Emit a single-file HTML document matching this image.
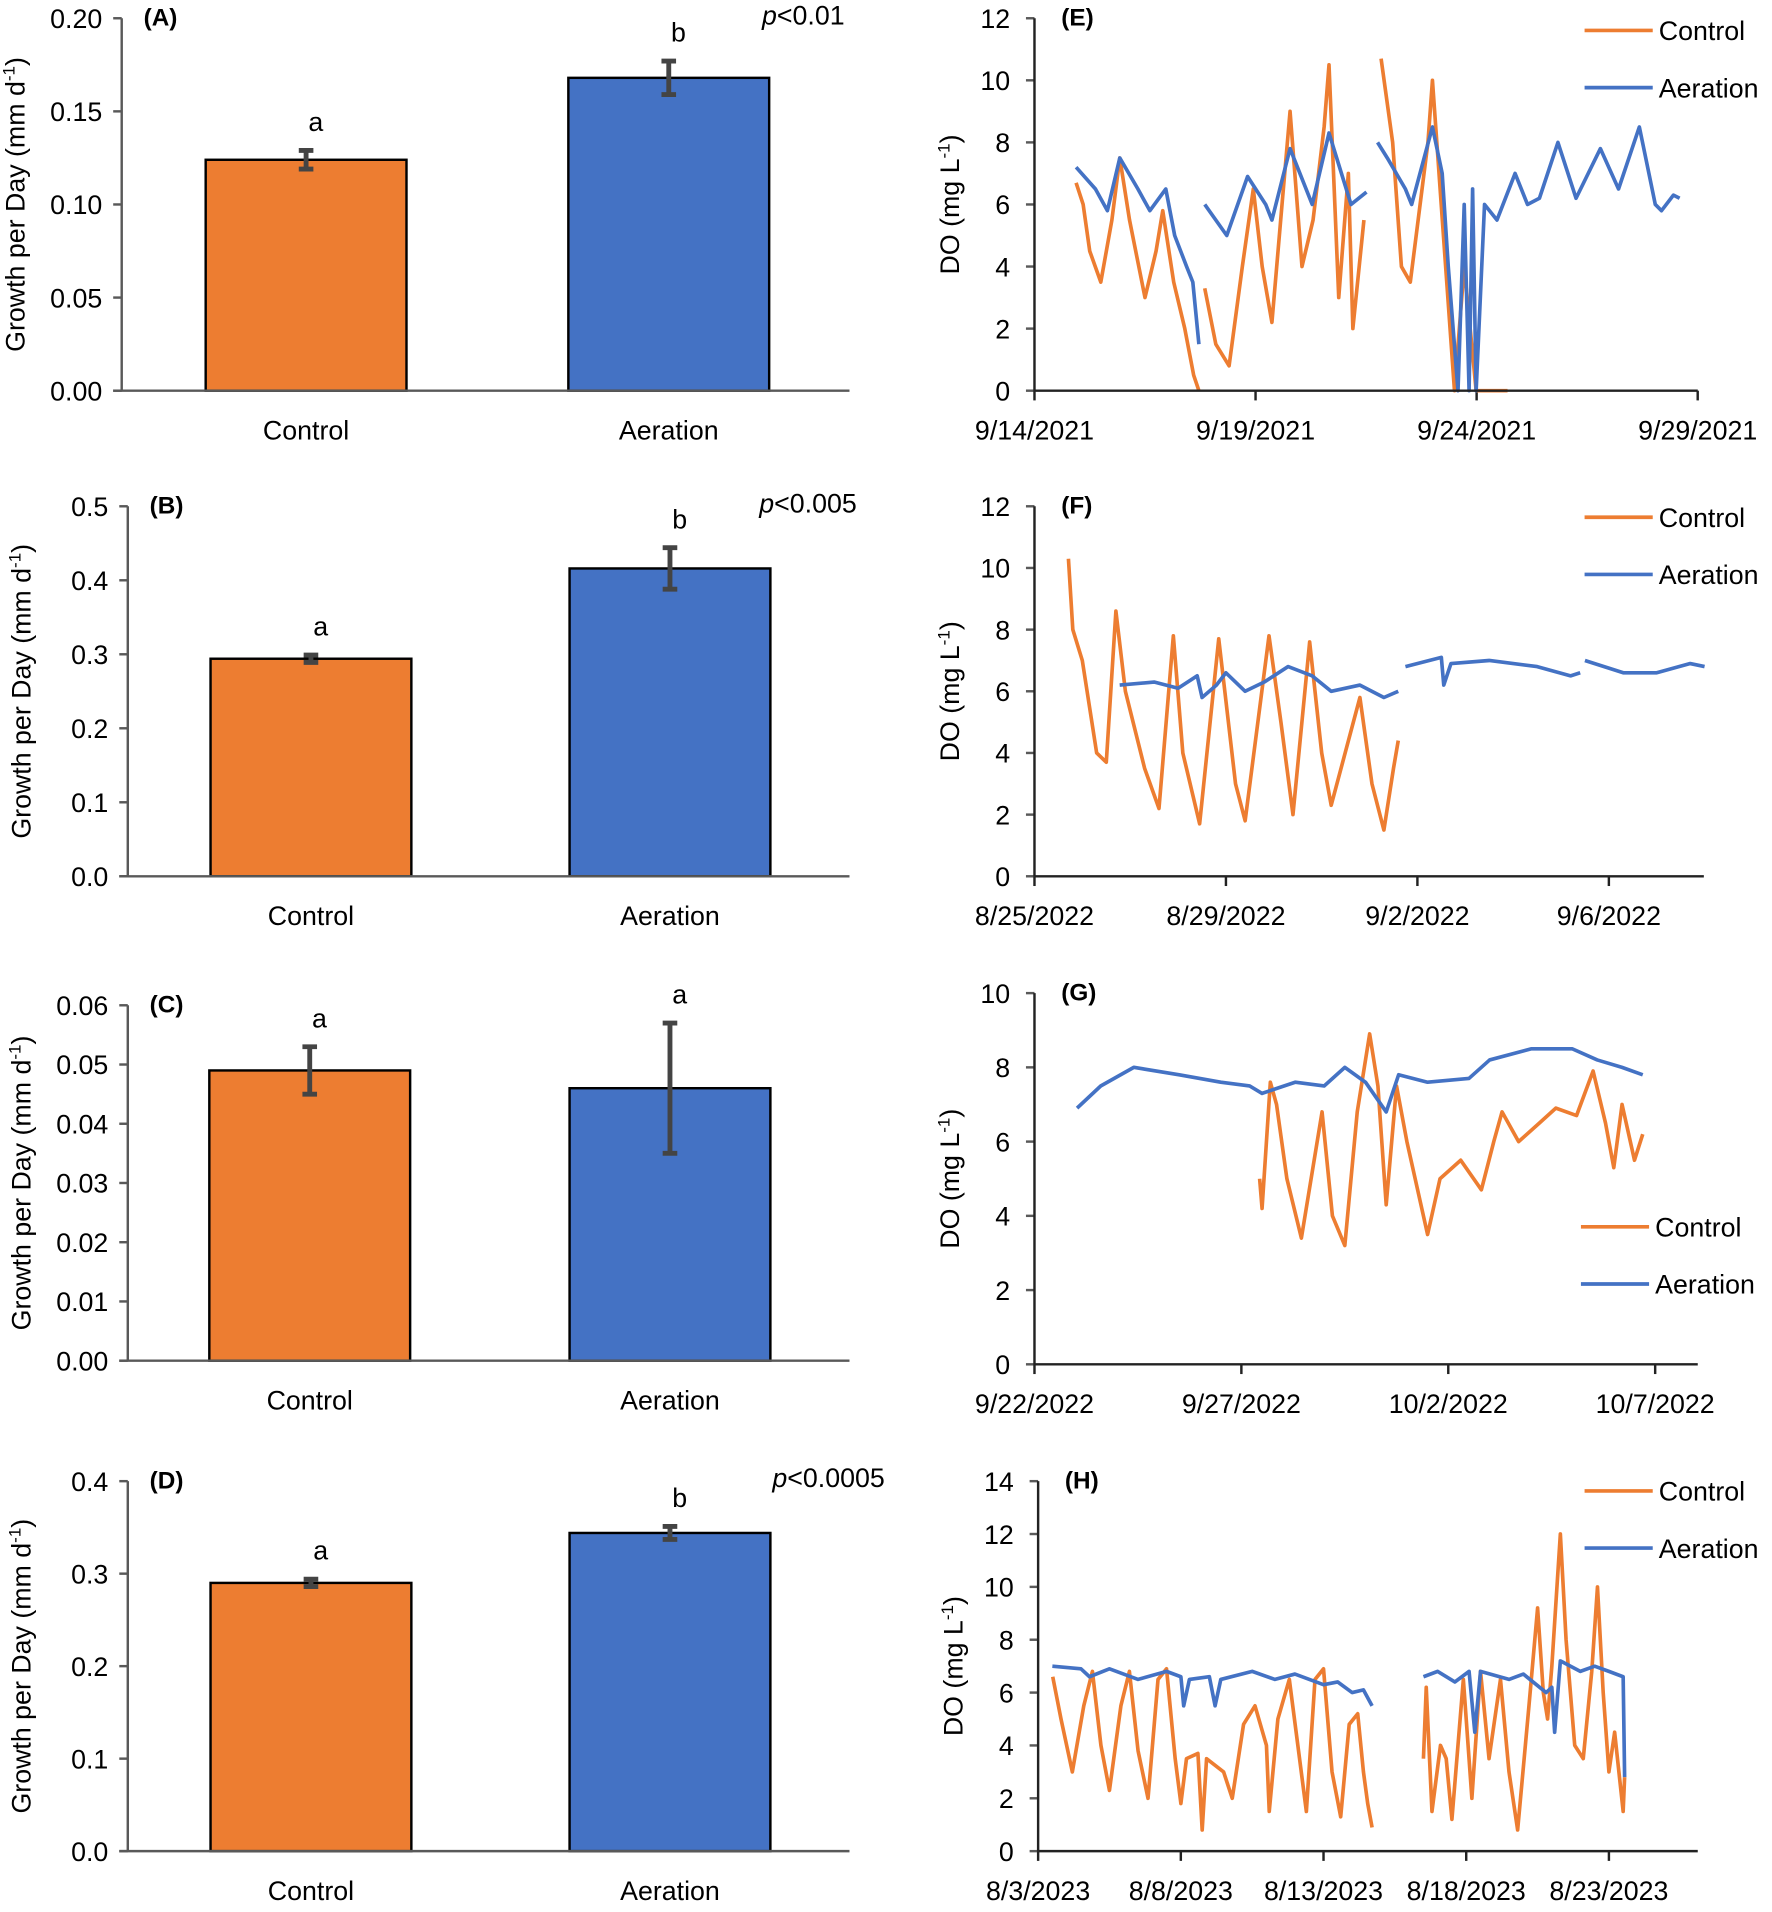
<!DOCTYPE html>
<html><head><meta charset="utf-8"><style>
html,body{margin:0;padding:0;background:#fff}
svg{display:block}
text{font-family:"Liberation Sans",sans-serif;fill:#000}
</style></head><body>
<svg id="fig" width="1772" height="1912" viewBox="0 0 1456 1571" preserveAspectRatio="none" xmlns="http://www.w3.org/2000/svg"></svg>
<script>
// ---- bar chart data ----
const barCategories = ["Control","Aeration"];
const barA = [0.124,0.168], errA = [0.005,0.009], letA = ["a","b"];
const barB = [0.294,0.416], errB = [0.005,0.028], letB = ["a","b"];
const barC = [0.049,0.046], errC = [0.004,0.011], letC = ["a","a"];
const barD = [0.290,0.344], errD = [0.004,0.007], letD = ["a","b"];
const ticksA = ["0.00","0.05","0.10","0.15","0.20"];
const ticksB = ["0.0","0.1","0.2","0.3","0.4","0.5"];
const ticksC = ["0.00","0.01","0.02","0.03","0.04","0.05","0.06"];
const ticksD = ["0.0","0.1","0.2","0.3","0.4"];
// ---- DO series [day offset, mg/L]; null = gap ----
const ctrlE = [[0.94,6.7],[1.1,6.0],[1.25,4.5],[1.5,3.5],[1.75,5.5],[1.93,7.5],[2.15,5.5],[2.5,3.0],[2.75,4.5],[2.9,5.8],[3.15,3.5],[3.4,2.0],[3.6,0.5],[3.72,0],null,[3.85,3.3],[4.1,1.5],[4.4,0.8],[4.7,4.0],[4.95,6.5],[5.15,4.0],[5.37,2.2],[5.6,6.0],[5.78,9.0],[6.05,4.0],[6.3,5.5],[6.55,8.5],[6.66,10.5],[6.88,3.0],[7.1,7.0],[7.2,2.0],[7.45,5.5],null,[7.84,10.7],[8.1,8.0],[8.3,4.0],[8.5,3.5],[8.9,8.0],[9.0,10.0],[9.2,6.0],[9.5,0],[9.72,4.0],[9.99,0],[10.7,0]];
const aerE = [[0.94,7.2],[1.38,6.5],[1.65,5.8],[1.93,7.5],[2.34,6.5],[2.61,5.8],[2.97,6.5],[3.17,5.0],[3.44,4.0],[3.58,3.5],[3.72,1.5],null,[3.85,6.0],[4.35,5.0],[4.82,6.9],[5.23,6.0],[5.37,5.5],[5.78,7.8],[6.28,6.0],[6.66,8.3],[7.16,6.0],[7.51,6.4],null,[7.76,8.0],[7.98,7.5],[8.39,6.5],[8.53,6.0],[9.0,8.5],[9.22,7.0],[9.36,4.0],[9.58,0],[9.72,6.0],[9.83,0],[9.91,6.5],[9.99,0],[10.18,6.0],[10.46,5.5],[10.87,7.0],[11.15,6.0],[11.42,6.2],[11.84,8.0],[12.25,6.2],[12.8,7.8],[13.21,6.5],[13.68,8.5],[14.04,6.0],[14.18,5.8],[14.45,6.3],[14.59,6.2]];
const ctrlF = [[0.71,10.3],[0.8,8],[1.0,7],[1.3,4],[1.5,3.7],[1.7,8.6],[1.9,6],[2.3,3.5],[2.6,2.2],[2.9,7.8],[3.1,4],[3.45,1.7],[3.85,7.7],[4.2,3],[4.4,1.8],[4.9,7.8],[5.15,5],[5.4,2],[5.75,7.6],[6.0,4],[6.2,2.3],[6.8,5.8],[7.05,3],[7.3,1.5],[7.5,3.5],[7.6,4.4]];
const aerF = [[1.78,6.2],[2.5,6.3],[3.0,6.1],[3.4,6.5],[3.5,5.8],[3.8,6.2],[4.0,6.6],[4.4,6.0],[4.8,6.3],[5.3,6.8],[5.8,6.5],[6.2,6.0],[6.8,6.2],[7.3,5.8],[7.6,6.0],null,[7.75,6.8],[8.5,7.1],[8.55,6.2],[8.7,6.9],[9.5,7.0],[10.5,6.8],[11.2,6.5],[11.4,6.6],null,[11.5,7.0],[12.3,6.6],[13.0,6.6],[13.7,6.9],[14.0,6.8]];
const ctrlG = [[5.44,5.0],[5.5,4.2],[5.7,7.6],[5.85,7],[6.1,5],[6.45,3.4],[6.95,6.8],[7.2,4],[7.5,3.2],[7.8,6.8],[8.1,8.9],[8.3,7.5],[8.5,4.3],[8.75,7.5],[9.0,6],[9.5,3.5],[9.8,5.0],[10.3,5.5],[10.8,4.7],[11.1,6.0],[11.3,6.8],[11.7,6.0],[12.2,6.5],[12.6,6.9],[13.1,6.7],[13.5,7.9],[13.8,6.5],[14.0,5.3],[14.2,7.0],[14.5,5.5],[14.7,6.2]];
const aerG = [[1.03,6.9],[1.6,7.5],[2.4,8.0],[3.5,7.8],[4.5,7.6],[5.2,7.5],[5.5,7.3],[6.3,7.6],[7.0,7.5],[7.5,8.0],[8.0,7.6],[8.5,6.8],[8.8,7.8],[9.5,7.6],[10.5,7.7],[11.0,8.2],[12.0,8.5],[13.0,8.5],[13.6,8.2],[14.2,8.0],[14.7,7.8]];
const ctrlH = [[0.51,6.6],[0.8,5],[1.2,3],[1.6,5.5],[1.9,6.8],[2.2,4],[2.5,2.3],[2.9,5.5],[3.2,6.8],[3.5,3.8],[3.85,2],[4.2,6.5],[4.5,6.9],[4.8,3.5],[5.0,1.8],[5.2,3.5],[5.6,3.7],[5.75,0.8],[5.9,3.5],[6.5,3],[6.8,2],[7.2,4.8],[7.6,5.5],[8.0,4],[8.1,1.5],[8.4,5],[8.8,6.5],[9.1,4],[9.4,1.5],[9.7,6.5],[10.0,6.9],[10.3,3],[10.6,1.3],[10.9,4.8],[11.2,5.2],[11.4,3],[11.55,1.8],[11.7,0.9],null,[13.5,3.5],[13.6,6.2],[13.8,1.5],[14.1,4],[14.3,3.5],[14.5,1.2],[14.9,6.5],[15.2,2],[15.5,6.8],[15.8,3.5],[16.2,6.5],[16.5,3],[16.8,0.8],[17.2,5.5],[17.5,9.2],[17.7,6],[17.85,5],[18.0,7],[18.3,12],[18.5,8],[18.8,4],[19.1,3.5],[19.4,6.8],[19.6,10],[19.8,6],[20.0,3],[20.2,4.5],[20.5,1.5],[20.55,2.8]];
const aerH = [[0.5,7.0],[1.5,6.9],[1.8,6.6],[2.5,6.9],[3.5,6.5],[4.5,6.8],[5.0,6.6],[5.1,5.5],[5.3,6.5],[6.0,6.6],[6.2,5.5],[6.4,6.5],[7.5,6.8],[8.3,6.5],[9.0,6.7],[10.0,6.3],[10.5,6.4],[11.0,6.0],[11.4,6.1],[11.7,5.5],null,[13.5,6.6],[14.0,6.8],[14.6,6.4],[15.1,6.8],[15.3,4.5],[15.5,6.8],[16.5,6.5],[17.0,6.7],[17.8,6.0],[18.0,6.2],[18.1,4.5],[18.3,7.2],[19.0,6.8],[19.5,7.0],[20.0,6.8],[20.5,6.6],[20.55,2.8]];
const dateTicksE = ["9/14/2021","9/19/2021","9/24/2021","9/29/2021"];
const dateTicksF = ["8/25/2022","8/29/2022","9/2/2022","9/6/2022"];
const dateTicksG = ["9/22/2022","9/27/2022","10/2/2022","10/7/2022"];
const dateTicksH = ["8/3/2023","8/8/2023","8/13/2023","8/18/2023","8/23/2023"];

const NS="http://www.w3.org/2000/svg", svg=document.getElementById('fig');
const OR="#ED7D31", BL="#4472C4", AX="#595959";
function mk(tag,attrs,parent,txt){const e=document.createElementNS(NS,tag);for(const k in attrs)e.setAttribute(k,attrs[k]);if(txt!=null)e.textContent=txt;(parent||svg).appendChild(e);return e;}

function barPanel(o){
  const g=mk('g',{});
  
  
  const vmax=parseFloat(o.ticks[o.ticks.length-1]);
  const y=v=>o.y0-(v/vmax)*(o.y0-o.yTop);
  o.ticks.forEach(t=>{const v=parseFloat(t);
    mk('line',{x1:o.ax-7,x2:o.ax,y1:y(v),y2:y(v),stroke:AX,'stroke-width':2},g);
    const tx=mk('text',{x:o.ax-16,y:y(v)+8,'text-anchor':'end','font-size':22},g,t);
    });
  const yt=mk('text',{x:0,y:0,transform:`translate(${o.ax-80},${(o.y0+o.yTop)/2}) rotate(-90)`,'text-anchor':'middle','font-size':22},g);
  yt.innerHTML='Growth per Day (mm d<tspan dy="-8" font-size="14">-1</tspan><tspan dy="8">)</tspan>';
  
  o.vals.forEach((v,i)=>{
    const x0=o.bx[i], w=165;
    const r=mk('rect',{x:x0,y:y(v),width:w,height:o.y0-y(v),fill:i?BL:OR,stroke:'#000','stroke-width':2},g);
    
    const cx=x0+w/2, e=o.err[i];
    mk('path',{d:`M${cx},${y(v+e)}V${y(v-e)}M${cx-6},${y(v+e)}H${cx+6}M${cx-6},${y(v-e)}H${cx+6}`,stroke:'#444','stroke-width':4,fill:'none'},g);
    const lt=mk('text',{x:cx+8,y:y(v+e)-16,'text-anchor':'middle','font-size':22},g,o.let[i]);
    
    const cl=mk('text',{x:cx,y:o.y0+40,'text-anchor':'middle','font-size':22},g,barCategories[i]);
    
  });
  mk('line',{x1:o.ax,x2:o.ax,y1:o.yTop,y2:o.y0,stroke:AX,'stroke-width':2},g);
  mk('line',{x1:o.ax-7,x2:698,y1:o.y0,y2:o.y0,stroke:AX,'stroke-width':2},g);
  const pl=mk('text',{x:o.ax+18,y:o.yTop+6,'font-size':20,'font-weight':'bold'},g,'('+o.id+')');
  
  if(o.p){const pt=mk('text',{x:o.px,y:o.yTop+5,'text-anchor':'end','font-size':22},g);
    pt.innerHTML='<tspan font-style="italic">p</tspan>'+o.p;
    }
}
barPanel({id:'A',vals:barA,err:errA,let:letA,ticks:ticksA,ax:100,y0:321,yTop:15,bx:[169,467],p:'<0.01',px:694});
barPanel({id:'B',vals:barB,err:errB,let:letB,ticks:ticksB,ax:105,y0:720,yTop:416,bx:[173,468],p:'<0.005',px:704});
barPanel({id:'C',vals:barC,err:errC,let:letC,ticks:ticksC,ax:105,y0:1118,yTop:826,bx:[172,468]});
barPanel({id:'D',vals:barD,err:errD,let:letD,ticks:ticksD,ax:105,y0:1521,yTop:1217,bx:[173,468],p:'<0.0005',px:727});

function linePanel(o){
  const g=mk('g',{});
  
  
  const y=v=>o.y0-(v/o.vmax)*(o.y0-o.yTop);
  const x=d=>o.ax+d*o.ppd;
  for(let v=0;v<=o.vmax;v+=2){
    mk('line',{x1:o.ax-7,x2:o.ax,y1:y(v),y2:y(v),stroke:AX,'stroke-width':2},g);
    const t=mk('text',{x:o.ax-20,y:y(v)+8,'text-anchor':'end','font-size':22},g,String(v));
    
  }
  o.dates.forEach((s,i)=>{const xx=x(i*o.step);
    mk('line',{x1:xx,x2:xx,y1:o.y0,y2:o.y0+8,stroke:'#222','stroke-width':2},g);
    const t=mk('text',{x:xx,y:o.y0+40,'text-anchor':'middle','font-size':22},g,s);
    });
  const yt=mk('text',{x:0,y:0,transform:`translate(${o.ax-62},${(o.y0+o.yTop)/2}) rotate(-90)`,'text-anchor':'middle','font-size':22},g);
  yt.innerHTML='DO (mg L<tspan dy="-8" font-size="14">-1</tspan><tspan dy="8">)</tspan>';
  
  [[o.ctrl,OR,'control'],[o.aer,BL,'aeration']].forEach(([s,c,n])=>{
    let d='',pen=false;
    s.forEach(p=>{if(!p){pen=false;return;}d+=(pen?'L':'M')+x(p[0]).toFixed(1)+','+y(p[1]).toFixed(1);pen=true;});
    const pth=mk('path',{d:d,stroke:c,'stroke-width':3,fill:'none','stroke-linejoin':'round'},g);
    
  });
  mk('line',{x1:o.ax,x2:o.ax,y1:o.yTop,y2:o.y0,stroke:'#222','stroke-width':2},g);
  mk('line',{x1:o.ax,x2:o.axEnd,y1:o.y0,y2:o.y0,stroke:'#222','stroke-width':2},g);
  const pl=mk('text',{x:o.ax+22,y:o.yTop+6,'font-size':20,'font-weight':'bold'},g,'('+o.id+')');
  
  [['Control',OR,o.ly],['Aeration',BL,o.ly+47]].forEach(([n,c,ly])=>{
    const lg=mk('g',{},g);
    mk('line',{x1:o.lx,x2:o.lx+56,y1:ly,y2:ly,stroke:c,'stroke-width':3},lg);
    mk('text',{x:o.lx+61,y:ly+8,'font-size':22},lg,n);
  });
}
linePanel({id:'E',ctrl:ctrlE,aer:aerE,dates:dateTicksE,step:5,ax:850,ppd:36.33,axEnd:1395,y0:321,yTop:15,vmax:12,lx:1302,ly:25});
linePanel({id:'F',ctrl:ctrlF,aer:aerF,dates:dateTicksF,step:4,ax:850,ppd:39.33,axEnd:1400,y0:720,yTop:416,vmax:12,lx:1302,ly:425});
linePanel({id:'G',ctrl:ctrlG,aer:aerG,dates:dateTicksG,step:5,ax:850,ppd:34,axEnd:1395,y0:1121,yTop:816,vmax:10,lx:1299,ly:1008});
linePanel({id:'H',ctrl:ctrlH,aer:aerH,dates:dateTicksH,step:5,ax:853,ppd:23.45,axEnd:1395,y0:1521,yTop:1217,vmax:14,lx:1302,ly:1225});
</script>
</body></html>
